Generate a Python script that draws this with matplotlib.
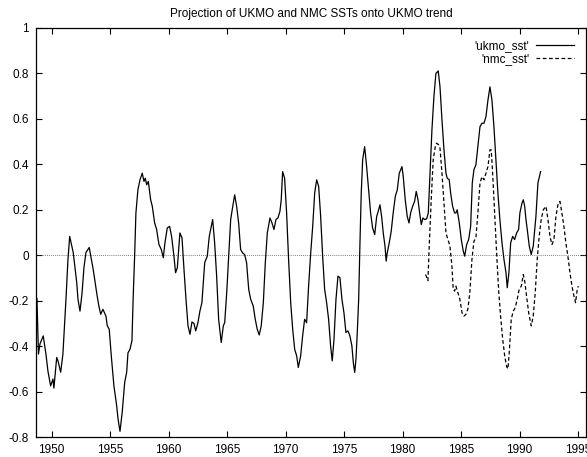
import matplotlib
matplotlib.use("Agg")
import matplotlib.pyplot as plt

plt.rcParams['font.family'] = ['Liberation Sans', 'DejaVu Sans']

# UKMO projection (year, value)
ukmo_year = [1948.75, 1948.88, 1949.01, 1949.29, 1949.52, 1949.69, 1949.92, 1950.12, 1950.2, 1950.44,
             1950.55, 1950.78, 1950.97, 1951.23, 1951.4, 1951.55, 1951.85, 1952.0, 1952.15, 1952.26,
             1952.43, 1952.6, 1952.77, 1952.83, 1952.94, 1953.22, 1953.37, 1953.56, 1953.9, 1954.05,
             1954.2, 1954.39, 1954.65, 1954.76, 1954.93, 1955.1, 1955.33, 1955.56, 1955.68, 1955.85,
             1956.04, 1956.25, 1956.42, 1956.53, 1956.7, 1956.87, 1956.98, 1957.1, 1957.21, 1957.38,
             1957.56, 1957.75, 1957.9, 1958.01, 1958.13, 1958.27, 1958.47, 1958.61, 1958.81, 1958.98,
             1959.18, 1959.38, 1959.55, 1959.69, 1959.89, 1960.09, 1960.26, 1960.46, 1960.6, 1960.75,
             1960.97, 1961.15, 1961.32, 1961.49, 1961.66, 1961.83, 1962.0, 1962.17, 1962.32, 1962.51,
             1962.68, 1962.85, 1963.09, 1963.31, 1963.48, 1963.77, 1963.94, 1964.11, 1964.28, 1964.5,
             1964.68, 1964.8, 1964.97, 1965.14, 1965.31, 1965.44, 1965.65, 1965.82, 1965.99, 1966.16,
             1966.33, 1966.5, 1966.67, 1966.85, 1967.02, 1967.24, 1967.41, 1967.58, 1967.75, 1967.92,
             1968.1, 1968.27, 1968.44, 1968.67, 1968.84, 1969.01, 1969.18, 1969.35, 1969.52, 1969.63,
             1969.75, 1969.92, 1970.09, 1970.26, 1970.44, 1970.61, 1970.78, 1970.95, 1971.09, 1971.29,
             1971.46, 1971.63, 1971.8, 1971.97, 1972.15, 1972.32, 1972.49, 1972.66, 1972.83, 1973.0,
             1973.17, 1973.34, 1973.51, 1973.68, 1973.85, 1973.99, 1974.14, 1974.31, 1974.48, 1974.65,
             1974.82, 1974.99, 1975.16, 1975.33, 1975.5, 1975.67, 1975.79, 1975.91, 1976.02, 1976.13,
             1976.25, 1976.36, 1976.47, 1976.59, 1976.76, 1976.93, 1977.1, 1977.27, 1977.44, 1977.62,
             1977.79, 1977.96, 1978.07, 1978.21, 1978.35, 1978.5, 1978.6, 1978.69, 1978.86, 1979.03,
             1979.2, 1979.38, 1979.55, 1979.72, 1979.95, 1980.06, 1980.23, 1980.4, 1980.55, 1980.69,
             1980.86, 1981.03, 1981.17, 1981.32, 1981.46, 1981.6, 1981.74, 1981.89, 1982.06, 1982.2,
             1982.34, 1982.51, 1982.68, 1982.85, 1983.05, 1983.2, 1983.37, 1983.54, 1983.71, 1983.82,
             1983.99, 1984.11, 1984.28, 1984.45, 1984.56, 1984.67, 1984.85, 1985.02, 1985.19, 1985.31,
             1985.48, 1985.65, 1985.82, 1985.96, 1986.1, 1986.27, 1986.44, 1986.62, 1986.79, 1986.96,
             1987.13, 1987.3, 1987.47, 1987.64, 1987.81, 1987.98, 1988.15, 1988.32, 1988.5, 1988.67,
             1988.84, 1988.95, 1989.09, 1989.24, 1989.41, 1989.58, 1989.75, 1989.92, 1990.03, 1990.21,
             1990.32, 1990.44, 1990.55, 1990.66, 1990.83, 1991.0, 1991.17, 1991.4, 1991.57, 1991.8]
ukmo_val = [-0.19, -0.435, -0.39, -0.355, -0.435, -0.51, -0.575, -0.545, -0.585, -0.45,
            -0.465, -0.515, -0.435, -0.195, -0.02, 0.083, 0.012, -0.054, -0.12, -0.195,
            -0.246, -0.17, -0.054, -0.03, 0.012, 0.034, -0.01, -0.063, -0.18, -0.225,
            -0.26, -0.238, -0.268, -0.31, -0.326, -0.44, -0.575, -0.66, -0.72, -0.775,
            -0.69, -0.56, -0.515, -0.43, -0.414, -0.377, -0.18, -0.004, 0.186, 0.288,
            0.332, 0.361, 0.325, 0.339, 0.31, 0.325, 0.244, 0.215, 0.142, 0.113,
            0.047, 0.025, -0.011, 0.054, 0.12, 0.127, 0.083, -0.004, -0.077, -0.055,
            0.098, 0.076, -0.063, -0.194, -0.31, -0.348, -0.294, -0.3, -0.333, -0.297,
            -0.246, -0.209, -0.033, -0.004, 0.083, 0.157, 0.054, -0.092, -0.282, -0.384,
            -0.311, -0.296, -0.165, -0.004, 0.157, 0.2, 0.266, 0.215, 0.142, 0.025,
            0.01, 0.003, -0.033, -0.15, -0.194, -0.224, -0.282, -0.326, -0.351, -0.311,
            -0.209, -0.033, 0.098, 0.164, 0.142, 0.113, 0.157, 0.164, 0.193, 0.244,
            0.368, 0.339, 0.186, -0.019, -0.209, -0.326, -0.414, -0.443, -0.494, -0.443,
            -0.355, -0.282, -0.297, -0.136, 0.01, 0.127, 0.274, 0.332, 0.303, 0.171,
            -0.004, -0.15, -0.209, -0.282, -0.399, -0.465, -0.37, -0.194, -0.092, -0.099,
            -0.194, -0.253, -0.34, -0.333, -0.355, -0.399, -0.472, -0.516, -0.457, -0.34,
            -0.194, 0.054, 0.274, 0.42, 0.478, 0.39, 0.288, 0.186, 0.12, 0.091,
            0.171, 0.2, 0.222, 0.171, 0.098, 0.04, -0.026, 0.01, 0.054, 0.105,
            0.186, 0.259, 0.288, 0.361, 0.39, 0.346, 0.244, 0.171, 0.142, 0.186,
            0.215, 0.237, 0.281, 0.244, 0.186, 0.135, 0.164, 0.157, 0.16, 0.186,
            0.346, 0.551, 0.697, 0.8, 0.811, 0.741, 0.595, 0.464, 0.361, 0.339,
            0.332, 0.274, 0.215, 0.186, 0.186, 0.2, 0.142, 0.069, 0.018, -0.004,
            0.047, 0.069, 0.127, 0.318, 0.376, 0.398, 0.478, 0.566, 0.581, 0.581,
            0.61, 0.683, 0.741, 0.683, 0.566, 0.42, 0.274, 0.157, 0.054, -0.019,
            -0.077, -0.143, -0.077, 0.054, 0.083, 0.069, 0.098, 0.113, 0.186, 0.23,
            0.244, 0.215, 0.157, 0.113, 0.04, 0.003, 0.04, 0.171, 0.318, 0.368]

# NMC projection
nmc_year = [1981.97, 1982.17, 1982.28, 1982.45, 1982.62, 1982.8, 1982.91, 1983.08, 1983.2, 1983.37,
            1983.54, 1983.71, 1983.88, 1984.05, 1984.22, 1984.33, 1984.45, 1984.56, 1984.73, 1984.9,
            1985.08, 1985.25, 1985.42, 1985.58, 1985.75, 1985.93, 1986.1, 1986.27, 1986.44, 1986.62,
            1986.79, 1986.96, 1987.13, 1987.3, 1987.47, 1987.58, 1987.7, 1987.87, 1988.04, 1988.21,
            1988.38, 1988.56, 1988.73, 1988.9, 1989.01, 1989.12, 1989.29, 1989.46, 1989.63, 1989.8,
            1989.97, 1990.15, 1990.32, 1990.44, 1990.6, 1990.78, 1991.0, 1991.17, 1991.34, 1991.51,
            1991.68, 1991.85, 1992.03, 1992.26, 1992.43, 1992.6, 1992.77, 1992.94, 1993.11, 1993.28,
            1993.45, 1993.62, 1993.79, 1993.96, 1994.13, 1994.31, 1994.48, 1994.65, 1994.79, 1994.93,
            1995.02]
nmc_val = [-0.085, -0.112, 0.04, 0.244, 0.42, 0.478, 0.493, 0.486, 0.471, 0.361,
           0.23, 0.098, 0.069, 0.04, -0.048, -0.15, -0.158, -0.136, -0.165, -0.194,
           -0.253, -0.268, -0.26, -0.238, -0.165, -0.019, 0.061, 0.076, 0.186, 0.318,
           0.346, 0.332, 0.361, 0.39, 0.464, 0.464, 0.361, 0.186, 0.01, -0.15,
           -0.268, -0.37, -0.443, -0.49, -0.5, -0.428, -0.282, -0.246, -0.231, -0.194,
           -0.15, -0.136, -0.085, -0.114, -0.18, -0.253, -0.311, -0.268, -0.165, -0.019,
           0.083, 0.157, 0.2, 0.215, 0.157, 0.083, 0.047, 0.069, 0.171, 0.222,
           0.237, 0.186, 0.127, 0.054, -0.004, -0.077, -0.136, -0.18, -0.209, -0.15,
           -0.136]

x_ticks = [1950, 1955, 1960, 1965, 1970, 1975, 1980, 1985, 1990, 1995]
y_ticks = [-0.8, -0.6, -0.4, -0.2, 0, 0.2, 0.4, 0.6, 0.8, 1]
y_labels = ["-0.8", "-0.6", "-0.4", "-0.2", "0", "0.2", "0.4", "0.6", "0.8", "1"]

fig = plt.figure(figsize=(5.87, 4.57), dpi=100)
ax = fig.add_axes([36 / 587, 20 / 457, 550 / 587, 409 / 457])

ax.axhline(0, color='#555555', lw=0.6, ls=(0, (1, 1.5)))
ax.plot(ukmo_year, ukmo_val, color='black', lw=0.9, label="'ukmo_sst'")
ax.plot(nmc_year, nmc_val, color='black', lw=0.9, ls=(0, (3, 2)), label="'nmc_sst'")

ax.set_xlim(1948.67, 1995.68)
ax.set_ylim(-0.8, 1)
ax.set_xticks(x_ticks)
ax.set_yticks(y_ticks)
ax.set_yticklabels(y_labels)
ax.tick_params(direction='in', length=4, width=0.8, top=True, right=True,
               labelsize=8.5, pad=5)
for s in ax.spines.values():
    s.set_linewidth(0.9)

ax.set_title("Projection of UKMO and NMC SSTs onto UKMO trend", fontsize=8.5, pad=8)
ax.legend(loc='upper right', frameon=False, markerfirst=False, fontsize=8.5,
          handlelength=3.2, handletextpad=0.6, labelspacing=0.1,
          borderaxespad=0.6, alignment='right')

fig.savefig("out.png", dpi=100)
